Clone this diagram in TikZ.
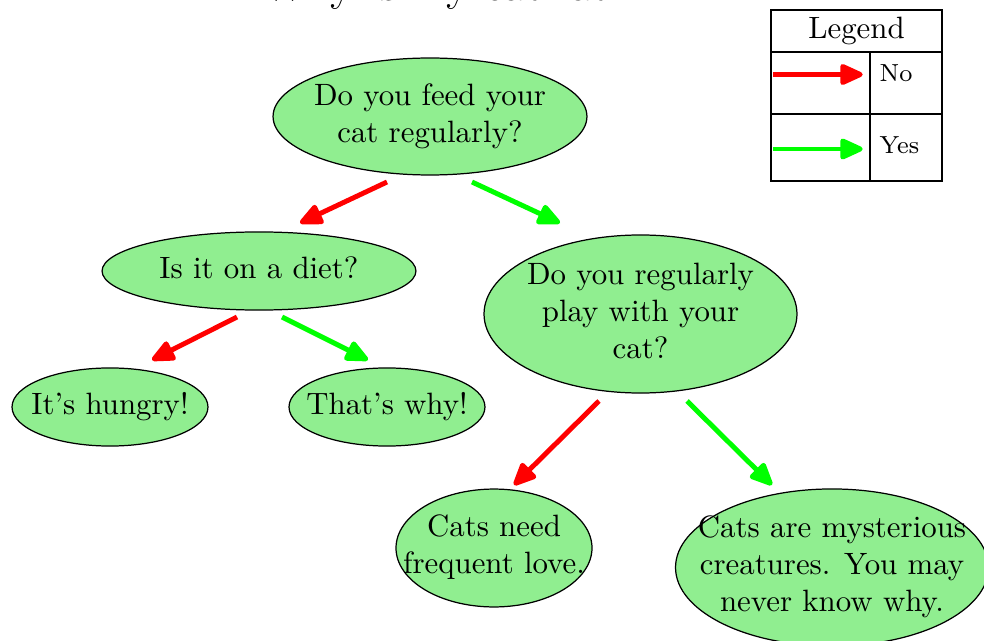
\documentclass[tikz,border=0pt]{standalone}
\usetikzlibrary{arrows.meta,calc,shapes.geometric}
\definecolor{bubblegreen}{RGB}{144,238,144}
\definecolor{yesgreen}{RGB}{0,255,0}
\definecolor{nored}{RGB}{255,0,0}
\newcommand\ctext[1]{\smash{\makebox[0pt]{\raisebox{-2.5pt}{\begin{tabular}[c]{@{}c@{}}#1\end{tabular}}}}}
\tikzset{
  bubble/.style={ellipse, draw=black, fill=bubblegreen, inner sep=0pt, line width=0.4pt},
  noedge/.style={draw=nored, line width=1.6pt, -{Triangle[length=8.5pt,width=7.2pt,round]}},
  yesedge/.style={draw=yesgreen, line width=1.6pt, -{Triangle[length=8.5pt,width=7.2pt,round]}},
  cell/.style={rectangle, draw=black, line width=0.4pt, inner sep=0pt},
  legtext/.style={font=\footnotesize, inner sep=0pt, anchor=base west}
}
\begin{document}
\begin{tikzpicture}[x=0.324pt, y=-0.324pt]
\useasboundingbox (0,0) rectangle (984,641);
% title (cut at top edge, as in the reference)
\node[font=\Large, anchor=base, inner sep=0pt] (title) at (446,0.5) {Why is my cat fat?};
% bubbles
\node[bubble, minimum width=101.7pt, minimum height=37.9pt] (root) at (430,116.5) {\ctext{Do you feed your\\cat regularly?}};
\node[bubble, minimum width=101.7pt, minimum height=25.3pt] (diet) at (259,271) {\ctext{Is it on a diet?}};
\node[bubble, minimum width=101.4pt, minimum height=51.2pt] (play) at (640.5,314) {\ctext{Do you regularly\\play with your\\cat?}};
\node[bubble, minimum width=63.5pt, minimum height=25.3pt] (hungry) at (110,407) {\ctext{It's hungry!}};
\node[bubble, minimum width=63.5pt, minimum height=25.3pt] (thats) at (387,407) {\ctext{That's why!}};
\node[bubble, minimum width=63.5pt, minimum height=38.2pt] (love) at (494,548) {\ctext{Cats need\\frequent love.}};
\node[bubble, minimum width=101.4pt, minimum height=50.9pt] (myst) at (832,567.5) {\ctext{Cats are mysterious\\creatures. You may\\never know why.}};
% connectors
\draw[noedge] ($(root)+(-43,65.5)$) -- ($(diet)+(41,-48)$);
\draw[yesedge] ($(root)+(42,65.5)$) -- ($(play)+(-80.5,-91)$);
\draw[noedge] ($(diet)+(-22,46)$) -- ($(hungry)+(42,-47)$);
\draw[yesedge] ($(diet)+(23,46)$) -- ($(thats)+(-19,-47)$);
\draw[noedge] ($(play)+(-41.5,87)$) -- ($(love)+(20,-63)$);
\draw[yesedge] ($(play)+(46.5,87)$) -- ($(myst)+(-60,-82.5)$);
% legend
\node[cell, minimum width=55.4pt, minimum height=13.6pt] (leghead) at (856.5,31) {Legend};
\node[cell, minimum width=32.1pt, minimum height=20.1pt] (noarrow) at (820.5,83) {};
\node[cell, minimum width=23.3pt, minimum height=20.1pt] (nocell) at (906,83) {};
\node[cell, minimum width=32.1pt, minimum height=21.7pt] (yesarrow) at (820.5,147.5) {};
\node[cell, minimum width=23.3pt, minimum height=21.7pt] (yescell) at (906,147.5) {};
\node[legtext] (legno) at (879,82) {No};
\node[legtext] (legyes) at (879,154) {Yes};
\draw[noedge] ($(noarrow.west)+(3,-8.5)$) -- ($(noarrow.east)+(-8,-8.5)$);
\draw[yesedge] ($(yesarrow.west)+(3,1.5)$) -- ($(yesarrow.east)+(-8,1.5)$);
\end{tikzpicture}
\end{document}
